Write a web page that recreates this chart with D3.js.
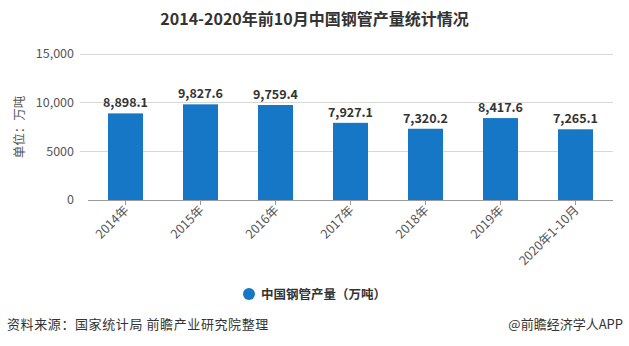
<!DOCTYPE html>
<html><head><meta charset="utf-8">
<script src="https://cdn.jsdelivr.net/npm/d3@7"></script>
<style>
body{margin:0;background:#fff;}
svg{display:block;font-family:"Microsoft YaHei","Noto Sans CJK SC","Noto Sans",sans-serif;}
</style></head><body>
<svg id="c" width="629" height="346"></svg>
<script>
const categories = ["2014年","2015年","2016年","2017年","2018年","2019年","2020年1-10月"];
const values = [8898.1, 9827.6, 9759.4, 7927.1, 7320.2, 8417.6, 7265.1];
const valueLabels = ["8,898.1","9,827.6","9,759.4","7,927.1","7,320.2","8,417.6","7,265.1"];
const yTicks = [0, 5000, 10000, 15000];
const yTickLabels = ["0","5000","10,000","15,000"];
const seriesName = "中国钢管产量（万吨）";
const title = "2014-2020年前10月中国钢管产量统计情况";
const yAxisTitle = "单位：万吨";
const source = "资料来源：国家统计局 前瞻产业研究院整理";
const credit = "@前瞻经济学人APP";

const svg = d3.select("#c");
const color = "#1777c7";
const x = d3.scaleBand().domain(categories).range([88, 613]).paddingInner(0.5333).paddingOuter(0.2667);
const y = d3.scaleLinear().domain([0, 15000]).range([200, 54]);

svg.append("text").attr("x", 314.5).attr("y", 25).attr("text-anchor","middle")
  .attr("font-size", 16).attr("font-weight","bold").attr("fill","#333").text(title);

svg.append("g").selectAll("line").data(yTicks.slice(1)).join("line")
  .attr("x1", 80).attr("x2", 613).attr("y1", d=>y(d)).attr("y2", d=>y(d))
  .attr("stroke","#d8d8d8").attr("stroke-width",1).attr("shape-rendering","crispEdges");

svg.append("g").selectAll("text").data(yTicks).join("text")
  .attr("x", 74).attr("y", d=>y(d)).attr("dy","0.35em").attr("text-anchor","end")
  .attr("font-size", 12.5).attr("fill","#555").text((d,i)=>yTickLabels[i]);

svg.append("text").attr("transform","translate(24,127) rotate(-90)").attr("text-anchor","middle")
  .attr("font-size",12.5).attr("fill","#555").text(yAxisTitle);

const bw = 35;
svg.append("g").selectAll("rect").data(values).join("rect")
  .attr("x",(d,i)=>x(categories[i]) + x.bandwidth()/2 - bw/2)
  .attr("width", bw)
  .attr("y", d=>y(d)).attr("height", d=>y(0)-y(d)).attr("fill", color);

svg.append("g").selectAll("text").data(values).join("text")
  .attr("x",(d,i)=>x(categories[i]) + x.bandwidth()/2)
  .attr("y", d=>y(d)-6).attr("text-anchor","middle")
  .attr("font-size",12.5).attr("font-weight","bold").attr("fill","#333")
  .text((d,i)=>valueLabels[i]);

const xAxis = d3.axisBottom(x).tickSize(5).tickSizeOuter(0).tickFormat(()=>"");
const gx = svg.append("g").attr("transform","translate(0,200)").call(xAxis);
gx.select(".domain").attr("stroke","#999").attr("d","M88,0.5H613");
gx.selectAll(".tick line").attr("stroke","#999");
svg.append("g").selectAll("text").data(categories).join("text")
  .attr("transform", d=>`translate(${x(d)+x.bandwidth()/2+4},${211}) rotate(-45)`)
  .attr("text-anchor","end").attr("font-size",12.5).attr("fill","#555").text(d=>d);

svg.append("circle").attr("cx",249).attr("cy",294).attr("r",6).attr("fill",color);
svg.append("text").attr("x",261).attr("y",298.5).attr("font-size",12.5).attr("font-weight","bold")
  .attr("fill","#333").text(seriesName);

svg.append("text").attr("x",7).attr("y",329).attr("font-size",13).attr("letter-spacing",0.6).attr("fill","#333").text(source);
svg.append("text").attr("x",623).attr("y",329).attr("text-anchor","end").attr("font-size",13).attr("fill","#333").text(credit);
</script>
</body></html>
